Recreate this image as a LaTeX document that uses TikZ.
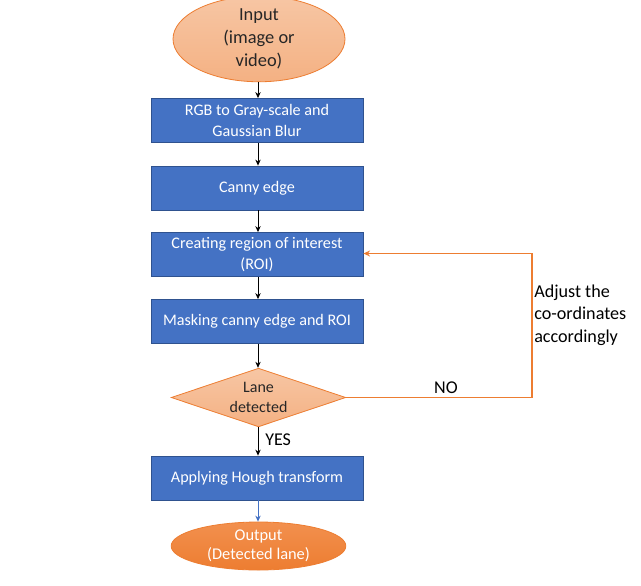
\documentclass[tikz,border=0pt]{standalone}
\usepackage{fontspec}
\setmainfont{Carlito}
\usetikzlibrary{shapes.geometric,arrows.meta,calc}
\definecolor{boxblue}{HTML}{4472C4}
\definecolor{boxedge}{HTML}{2F528F}
\definecolor{orng}{HTML}{ED7D31}
\definecolor{salmon}{HTML}{F4B183}
\definecolor{salmontop}{HTML}{F7C6A4}
\definecolor{orngtop}{HTML}{F2904E}
\tikzset{
  x=0.75pt, y=-0.75pt,
  procbox/.style={rectangle, draw=boxedge, line width=0.6pt, fill=boxblue,
    minimum width=159pt, minimum height=33pt, inner sep=0pt,
    text=white, align=center, font=\fontsize{12.1}{16}\selectfont},
  flow/.style={-{Stealth[length=4.5pt,width=4pt]}, line width=0.6pt, black},
  loopline/.style={-{Stealth[length=5pt,width=4.5pt]}, line width=1pt, orng},
  lbl/.style={font=\fontsize{13.5}{16.5}\selectfont, text=black, inner sep=0pt}
}
\begin{document}
\begin{tikzpicture}
\useasboundingbox[fill=white] (0,0) rectangle (641,585);
% Input
\node[ellipse, draw=orng, line width=0.6pt, top color=salmontop, bottom color=salmon,
  minimum width=129pt, minimum height=55.5pt, inner sep=0pt, align=center,
  font=\fontsize{13.8}{17.3}\selectfont, text=black!85] (in) at (259,39) {Input\\(image or\\video)};
% boxes
\node[procbox] (b1) at (257,120.5) {RGB to Gray-scale and\\Gaussian Blur};
\node[procbox] (b2) at (257,188) {Canny edge};
\node[procbox] (b3) at (257,254.5) {Creating region of interest\\(ROI)};
\node[procbox] (b4) at (257,321.5) {Masking canny edge and ROI};
% decision
\node[diamond, draw=orng, line width=0.6pt, top color=salmontop, bottom color=salmon,
  minimum width=131pt, minimum height=44pt, inner sep=0pt, aspect=3] (dia) at (258.5,397.5) {};
\node[align=center, font=\fontsize{12}{15.5}\selectfont, text=black!85, inner sep=0pt] (diat) at (258.5,397.5) {Lane\\detected};
\node[procbox] (b5) at (257,478) {Applying Hough transform};
% output
\node[ellipse, draw=orng, line width=0.6pt, top color=orngtop, bottom color=orng,
  minimum width=131pt, minimum height=36pt, inner sep=0pt, align=center,
  font=\fontsize{12.3}{14.5}\selectfont, text=white] (out) at (258.5,546) {Output\\(Detected lane)};
% flow arrows
\draw[flow] (in.south -| 258,0) -- (b1.north -| 258,0);
\draw[flow] (b1.south -| 258,0) -- (b2.north -| 258,0);
\draw[flow] (b2.south -| 258,0) -- (b3.north -| 258,0);
\draw[flow] (b3.south -| 258,0) -- (b4.north -| 258,0);
\draw[flow] (b4.south -| 258,0) -- (dia.north -| 258,0);
\draw[flow] (dia.south -| 258,0) -- (b5.north -| 258,0);
\draw[flow, boxblue] (b5.south -| 258,0) -- (out.north -| 258,0);
% loop back
\coordinate (c1) at (532,397.5);
\coordinate (c2) at (532,253.5);
\draw[loopline] (dia.east) -- (c1) -- (c2) -- (c2 -| b3.east);
% labels
\node[lbl] (no) at (446,388) {NO};
\node[lbl, anchor=west] (yes) at (265,440) {YES};
\node[lbl, anchor=west, align=left, font=\fontsize{13.6}{16.7}\selectfont] (adj) at (534,315) {Adjust the\\co-ordinates\\accordingly};
\end{tikzpicture}
\end{document}
